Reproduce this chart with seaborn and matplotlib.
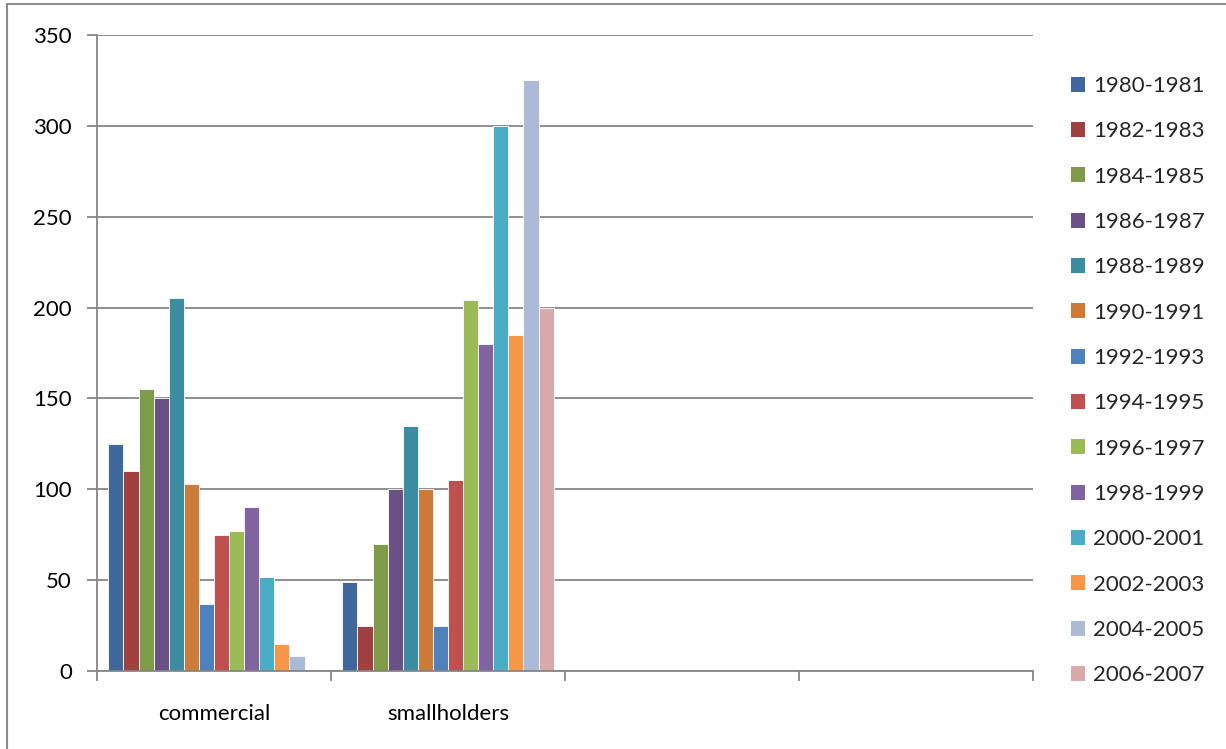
import matplotlib
matplotlib.use("Agg")
import matplotlib.pyplot as plt
from matplotlib.lines import Line2D
from matplotlib.patches import Patch
import numpy as np
import pandas as pd
import seaborn as sns

# Data
categories = ["commercial", "smallholders"]
periods = ["1980-1981", "1982-1983", "1984-1985", "1986-1987", "1988-1989",
           "1990-1991", "1992-1993", "1994-1995", "1996-1997", "1998-1999",
           "2000-2001", "2002-2003", "2004-2005", "2006-2007"]
commercial = [125, 110, 155, 150, 205, 103, 37, 75, 77, 90, 52, 15, 8, np.nan]
smallholders = [49, 25, 70, 100, 135, 100, 25, 105, 204, 180, 300, 185, 325, 200]
yticks = [0, 50, 100, 150, 200, 250, 300, 350]

colors = ["#3F679C", "#A04140", "#7F9A48", "#695185", "#3C8DA2", "#CC7B38",
          "#4F81BD", "#C0504D", "#9BBB59", "#8064A2", "#4BACC6", "#F79646",
          "#AABAD7", "#D9AAA9"]

df = pd.DataFrame({
    "category": np.repeat(categories, len(periods)),
    "period": periods * len(categories),
    "value": commercial + smallholders,
})

sns.set_theme(style="white")
plt.rcParams["font.family"] = ["Lato", "DejaVu Sans"]

fig = plt.figure(figsize=(12.26, 7.49), dpi=100)
ax = fig.add_axes([97 / 1226, 1 - 671 / 749, (1033 - 97) / 1226, (671 - 35) / 749])

sns.barplot(data=df, x="category", y="value", hue="period", order=categories,
            hue_order=periods, palette=colors, saturation=1, width=0.903,
            errorbar=None, edgecolor="white", linewidth=0.6, ax=ax, legend=False)

grid_c = "#868686"
ax.set_xlim(-0.5, 3.5)
ax.set_ylim(0, 350)
ax.set_yticks(yticks)
ax.yaxis.grid(True, color=grid_c, linewidth=1.3)
ax.set_axisbelow(True)
for s in ["top", "right"]:
    ax.spines[s].set_visible(False)
for s in ["left", "bottom"]:
    ax.spines[s].set_color(grid_c)
    ax.spines[s].set_linewidth(1.3)

ax.set_xticks([0, 1])
ax.set_xticklabels(categories)
ax.set_xticks([-0.5, 0.5, 1.5, 2.5, 3.5], minor=True)
ax.tick_params(axis="x", which="major", length=0, pad=24, labelsize=16, labelcolor="#000000")
ax.tick_params(axis="x", which="minor", length=7, width=1.3, color=grid_c, direction="out", bottom=True)
ax.tick_params(axis="y", length=7, width=1.3, color=grid_c, direction="out", left=True,
               pad=11, labelsize=16, labelcolor="#000000")
ax.set_xlabel("")
ax.set_ylabel("")

# Legend on the right
handles = [Patch(facecolor=c, edgecolor="none") for c in colors]
fig.legend(handles, periods, loc="upper left", bbox_to_anchor=(1071 / 1226, 1 - 76 / 749),
           frameon=False, fontsize=16, handlelength=0.65, handleheight=0.65,
           handletextpad=0.35, labelspacing=1.14, borderaxespad=0, borderpad=0)

# Chart-area border
fig.add_artist(Line2D([7 / 1226, 7 / 1226], [0, 1 - 4 / 749], transform=fig.transFigure,
                      color="#8C8C8C", linewidth=1.5))
fig.add_artist(Line2D([7 / 1226, 1], [1 - 4 / 749, 1 - 4 / 749], transform=fig.transFigure,
                      color="#8C8C8C", linewidth=1.5))

fig.savefig("out.png", dpi=100)
